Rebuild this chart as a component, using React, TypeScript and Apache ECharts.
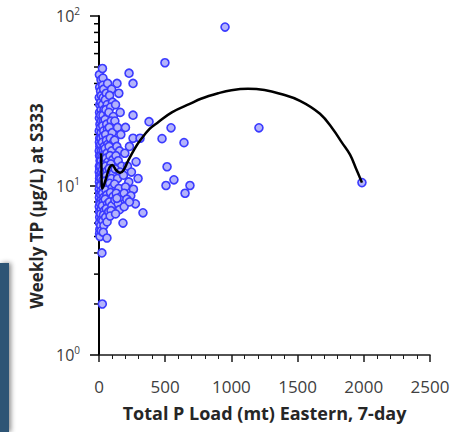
import React, { useEffect, useRef } from "react";
import * as echarts from "echarts";

// Scatter observations: 7-day Eastern total P load (mt) and weekly TP (µg/L)
const loadX: number[] = [
  3, 5, 2, 6, 4, 3, 7, 2, 5, 3, 6, 2, 4, 8, 3, 5, 2, 6, 4, 3, 7, 2, 5, 3, 6, 2, 4, 5, 3, 6, 4, 8,
  15, 12, 18, 14, 16, 13, 19, 12, 17, 15, 13, 18, 14, 16, 12, 19, 15, 13, 17, 14, 18, 12, 16, 14, 19, 13, 17, 22, 25,
  26, 30, 28, 35, 32, 27, 38, 30, 34, 28, 36, 31, 26, 39, 33, 29, 37, 31, 27, 35, 30, 38, 33, 28, 36, 31, 26, 40, 34, 29, 37, 32, 60,
  65, 55, 48, 62, 52, 68, 46, 58, 64, 50, 56, 66, 47, 60, 53, 68, 49, 62, 56, 45, 66, 52, 59, 47, 64, 55, 69, 50, 61, 74,
  136, 95, 80, 102, 88, 75, 108, 92, 78, 100, 85, 110, 76, 96, 83, 104, 90, 77, 108, 94, 81, 100, 87, 106, 79, 97, 91, 84,
  150, 125, 160, 120, 140, 165, 118, 135, 155, 128, 145, 170, 122, 160, 140, 118, 150, 130, 165, 120, 145, 155, 135, 181, 125,
  227, 257, 257, 200, 257, 310, 230, 195, 280, 215, 245, 185, 295, 225, 200, 260, 190, 240, 210, 275, 332, 190, 230,
  378, 544, 476, 642, 514, 566, 506, 687, 650, 498, 952, 1208, 1986,
];
const tpY: number[] = [
  45, 38, 33, 30, 27, 25, 23, 21, 19, 18, 17, 16, 15, 14, 13, 12.5, 12, 11.5, 11, 10.5, 10, 9.5, 9, 8.5, 8, 7.5, 7, 6.5, 6, 5.5, 5.2, 5,
  42, 36, 34, 31, 28, 26, 24, 22, 20.5, 19, 17.5, 16, 15, 14, 13, 12, 11, 10, 9.3, 8.8, 8.2, 7.8, 7.2, 6.8, 6.3, 5.8, 5.4, 4.0, 2.0,
  49, 43, 39, 37, 33, 30, 28, 26, 24, 22.5, 21, 19.5, 18, 17, 16, 15, 14, 13.2, 12.4, 11.7, 10.8, 10.2, 9.6, 9, 8.5, 8, 7.6, 7.1, 6.7, 6.2, 5.8, 5.3, 4.9,
  40, 35, 32, 30, 28, 26, 24.5, 23, 21.5, 20, 18.5, 17.5, 16.5, 15.5, 14.5, 13.8, 13, 12.2, 11.4, 10.6, 10, 9.4, 8.8, 8.3, 7.8, 7.3, 6.9, 6.5, 6.1, 7.0,
  40, 37, 34, 31, 29, 27, 25.5, 24, 22, 20.5, 19, 18, 17, 16, 15, 14.2, 13.4, 12.6, 11.8, 11, 10.3, 9.7, 9.1, 8.6, 8, 7.6, 7.1, 6.6,
  35, 30, 27, 24, 22, 20, 18.5, 17, 16, 15, 14, 13, 12.5, 12, 11, 10.2, 9.6, 9, 8.6, 8.2, 7.8, 7.2, 8.4, 6.0, 6.8,
  46, 40, 26, 22, 19, 19, 17, 15.5, 13.8, 13, 12, 11.5, 11, 10.5, 9.8, 9.5, 9, 8.7, 8.3, 7.8, 6.9, 7.5, 8,
  23.8, 21.9, 18.9, 17.9, 12.9, 10.8, 10, 10, 9, 53, 86, 21.9, 10.4,
];

// Fitted curve
const fitX: number[] = [16, 18, 20, 25, 40, 60, 80, 100, 130, 160, 185, 220, 270, 310, 380, 440, 550, 690, 770, 900, 1000, 1125, 1250, 1367, 1518, 1669, 1767, 1835, 1896, 1941, 1986];
const fitY: number[] = [15.5, 13, 10.5, 9.6, 10.2, 11.5, 12.8, 13.2, 12.3, 11.9, 12.3, 14, 16.5, 18.4, 21.5, 23.4, 27, 30.4, 32.5, 35, 36.5, 37.2, 36.6, 34.8, 31.6, 26.5, 21.5, 17.9, 15.2, 12.6, 10.4];

// Minor log ticks on the y axis
const yMinorTicks: number[] = [2, 3, 4, 5, 6, 7, 8, 9, 20, 30, 40, 50, 60, 70, 80, 90];

const X_NAME = "Total P Load (mt) Eastern, 7-day";
const Y_NAME = "Weekly TP (µg/L) at S333";

const FONT = "'Open Sans', Lato, sans-serif";

export default function App() {
  const ref = useRef<HTMLDivElement>(null);
  useEffect(() => {
    if (!ref.current) return;
    const chart = echarts.init(ref.current, null, { renderer: "svg" });
    const scatterData = loadX.map((x, i) => [x, tpY[i]]);
    const fitData = fitX.map((x, i) => [x, fitY[i]]);
    chart.setOption({
      animation: false,
      backgroundColor: "#ffffff",
      grid: { left: 99, right: 31, top: 16, bottom: 77 },
      xAxis: {
        type: "value",
        min: 0,
        max: 2500,
        interval: 500,
        name: X_NAME,
        nameLocation: "middle",
        nameGap: 49,
        nameTextStyle: { fontFamily: FONT, fontWeight: "bold", fontSize: 18, color: "#262626" },
        axisLine: { lineStyle: { color: "#1a1a1a", width: 1.5 } },
        axisTick: { show: true, inside: false, length: 7, lineStyle: { color: "#1a1a1a", width: 1.5 } },
        minorTick: { show: true, splitNumber: 5, length: 4, lineStyle: { color: "#1a1a1a", width: 1 } },
        splitLine: { show: false },
        minorSplitLine: { show: false },
        axisLabel: {
          fontFamily: FONT,
          fontSize: 17,
          color: "#404040",
          margin: 23,
          formatter: (v: number) => String(v),
        },
      },
      yAxis: {
        type: "log",
        logBase: 10,
        min: 1,
        max: 100,
        axisLine: { lineStyle: { color: "#000", width: 2 } },
        axisTick: { show: true, inside: false, length: 9, lineStyle: { color: "#000", width: 1.5 } },
        splitLine: { show: false },
        axisLabel: {
          fontFamily: FONT,
          fontSize: 16,
          color: "#404040",
          margin: 19,
          formatter: (v: number) => `10{s|${Math.round(Math.log10(v))}}`,
          rich: {
            s: { fontFamily: FONT, fontSize: 10, color: "#404040", padding: [0, 0, 10, 0] },
          },
        },
      },
      series: [
        {
          type: "custom",
          silent: true,
          data: yMinorTicks.map((v) => [0, v]),
          renderItem: (params: any, api: any) => {
            const p = api.coord([api.value(0), api.value(1)]);
            return {
              type: "line",
              shape: { x1: p[0] - 5, y1: p[1], x2: p[0], y2: p[1] },
              style: { stroke: "#000", lineWidth: 1.5 },
            };
          },
          z: 1,
        },
        {
          type: "scatter",
          data: scatterData,
          symbol: "circle",
          symbolSize: 8,
          itemStyle: { color: "#b3b3fb", borderColor: "#3a3aff", borderWidth: 1.6, opacity: 1 },
          z: 2,
        },
        {
          type: "line",
          data: fitData,
          showSymbol: false,
          smooth: 0.4,
          lineStyle: { color: "#000", width: 2.5 },
          z: 3,
        },
      ],
      graphic: [
        {
          type: "rect",
          shape: { x: 0, y: 263, width: 9, height: 169 },
          style: { fill: "#2d5475", shadowBlur: 5, shadowOffsetX: 2, shadowColor: "rgba(0,0,0,0.45)" },
          z: 0,
        },
        {
          type: "text",
          x: 36,
          y: 206,
          rotation: Math.PI / 2,
          style: {
            text: Y_NAME,
            fontFamily: FONT,
            fontWeight: "bold",
            fontSize: 17,
            fill: "#262626",
            textAlign: "center",
            textVerticalAlign: "middle",
          },
          z: 5,
        },
      ],
    });
    return () => chart.dispose();
  }, []);
  return <div ref={ref} style={{ position: "fixed", left: 0, top: 0, width: 461, height: 432 }} />;
}
